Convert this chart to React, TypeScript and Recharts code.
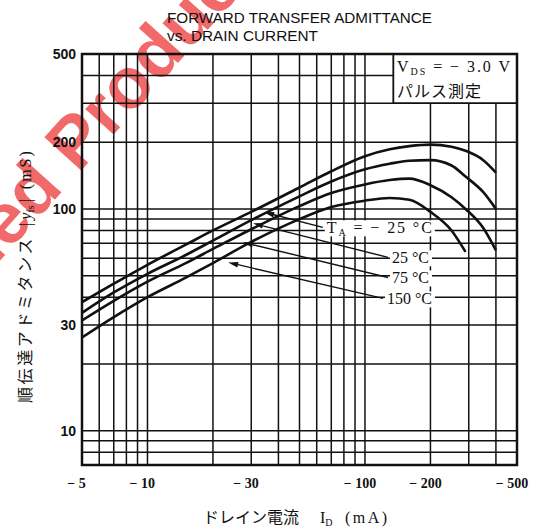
import React from 'react';
import { LineChart, Line, XAxis, YAxis, CartesianGrid, ReferenceArea, ReferenceLine } from 'recharts';

// drain current |I_D| in mA
const currentMA = [5, 7, 10, 15, 20, 30, 50, 70, 100, 130, 160, 200, 250, 290, 350, 400];

// |y_fs| in mS for each ambient temperature
const yfsM25 = [38, 46, 56, 69, 80, 97, 125, 148, 173, 186, 192, 195, 191, 183, 166, 146];
const yfs25 = [34, 42, 51, 62, 72, 89, 114, 133, 151, 160, 165, 166, 157, 140, 119, 100];
const yfs75 = [31.4, 38.5, 47, 57, 66, 81, 103, 118, 129, 135, 137, 128, 113, 100, 82, 65];
const yfs150 = [26.3, 32.5, 40, 49, 57, 71, 90, 102, 109, 112, 110, 97, 80, 64, null, null];

const xGrid = [5, 6, 7, 8, 9, 10, 20, 30, 40, 50, 60, 70, 80, 90, 100, 200, 300, 400, 500];
const xLabels = [5, 10, 30, 100, 200, 500];
const yGrid = [7, 8, 9, 10, 20, 30, 40, 50, 60, 70, 80, 90, 100, 200, 300, 400, 500];
const yLabels = [10, 30, 100, 200, 500];

// leader arrows for the temperature labels (tail at text, tip on curve)
const tempLabels = ['−25', '25', '75', '150'];
const labelWidth = [105, 37, 37, 45];
const arrowTail = [[64, 82.6], [127.6, 60.5], [127.6, 49.1], [121, 39.5]];
const arrowTip = [[34.4, 96.6], [30.6, 86.1], [27.5, 70.7], [23.5, 57.4]];

const rows = currentMA.map((i, k) => ({
  i,
  m25: yfsM25[k],
  p25: yfs25[k],
  p75: yfs75[k],
  p150: yfs150[k],
}));

const serif = '"Liberation Serif", "DejaVu Serif", serif';
const sans = '"Liberation Sans", Arial, sans-serif';
const cjk = '"Noto Sans CJK JP", sans-serif';

const XTick = (props: any) => {
  const { x, y, payload } = props;
  const v = payload.value;
  if (!xLabels.includes(v)) return null;
  const w = String(v).length * 7.5;
  return (
    <text x={x + w / 2} y={y + 21} textAnchor="end" fontFamily={serif} fontWeight="bold" fontSize={14} fill="#111">
      {'−  ' + v}
    </text>
  );
};

const arrowShape = (k: number) => (p: any) => {
  const { x1, y1, x2, y2 } = p;
  const ang = Math.atan2(y2 - y1, x2 - x1);
  const L = 10;
  const W = 2.8;
  const bx = x2 - L * Math.cos(ang);
  const by = y2 - L * Math.sin(ang);
  const nx = -Math.sin(ang) * W;
  const ny = Math.cos(ang) * W;
  const t = tempLabels[k];
  return (
    <g>
      <line x1={x1} y1={y1} x2={bx} y2={by} stroke="#111" strokeWidth={1.4} />
      <polygon points={`${x2},${y2} ${bx + nx},${by + ny} ${bx - nx},${by - ny}`} fill="#111" />
      <rect x={x1 + 2} y={y1 - 7} width={labelWidth[k] + 5} height={16} fill="#fff" />
      <text
        x={x1 + 4}
        y={y1 + 6}
        textLength={labelWidth[k]}
        lengthAdjust="spacing"
        fontFamily={serif}
        fontSize={16}
        fill="#111"
      >
        {k === 0 ? (
          <>
            <tspan>T</tspan>
            <tspan fontSize={10} dy={3}>A</tspan>
            <tspan dy={-3}>{' = − 25 °C'}</tspan>
          </>
        ) : (
          `${t} °C`
        )}
      </text>
    </g>
  );
};

export default function App() {
  return (
    <div style={{ position: 'absolute', left: 0, top: 0, width: 536, height: 529, background: '#fff' }}>
      <svg width={536} height={529} style={{ position: 'absolute', left: 0, top: 0 }}>
        <g transform="rotate(-48 78 174)" fontFamily={sans} fontWeight="bold" fontSize={72} fill="#ef5050" opacity={0.85}>
          <text x={78} y={174}>Product</text>
          <text x={58} y={174} textAnchor="end">Discontinued</text>
        </g>
      </svg>

      <div style={{ position: 'absolute', left: 0, top: 0 }}>
        <LineChart width={536} height={529} data={rows} margin={{ top: 54, right: 19, bottom: 34, left: 42 }}>
          <CartesianGrid stroke="#111" strokeWidth={1.5} strokeOpacity={1} />
          <XAxis
            dataKey="i"
            type="number"
            scale="log"
            domain={[5, 500]}
            ticks={xGrid}
            interval={0}
            allowDataOverflow
            axisLine={false}
            tickLine={false}
            tickSize={0}
            height={30}
            tick={<XTick />}
          />
          <YAxis
            type="number"
            scale="log"
            domain={[7, 500]}
            ticks={yGrid}
            interval={0}
            allowDataOverflow
            axisLine={false}
            tickLine={false}
            tickSize={0}
            tickMargin={6}
            width={40}
            tick={{ fill: '#111', fontSize: 14, fontFamily: sans, fontWeight: 'bold' }}
            tickFormatter={(v: number) => (yLabels.includes(v) ? String(v) : '')}
          />
          <ReferenceArea x1={135} x2={500} y1={300} y2={500} fill="#fff" fillOpacity={1} stroke="#111" strokeWidth={1.8} />
          <ReferenceArea x1={5} x2={500} y1={7} y2={500} fill="none" stroke="#111" strokeWidth={2.5} />
          <Line dataKey="m25" type="monotone" stroke="#111" strokeWidth={2.6} dot={false} isAnimationActive={false} />
          <Line dataKey="p25" type="monotone" stroke="#111" strokeWidth={2.6} dot={false} isAnimationActive={false} />
          <Line dataKey="p75" type="monotone" stroke="#111" strokeWidth={2.6} dot={false} isAnimationActive={false} />
          <Line dataKey="p150" type="monotone" stroke="#111" strokeWidth={2.6} dot={false} isAnimationActive={false} />
          {arrowTail.map((tail, k) => (
            <ReferenceLine
              key={k}
              segment={[
                { x: tail[0], y: tail[1] },
                { x: arrowTip[k][0], y: arrowTip[k][1] },
              ]}
              shape={arrowShape(k)}
            />
          ))}
        </LineChart>
      </div>

      <svg width={536} height={529} style={{ position: 'absolute', left: 0, top: 0, pointerEvents: 'none' }}>
        <text x={167} y={23} textLength={265} lengthAdjust="spacingAndGlyphs" fontFamily={sans} fontSize={15.5} fill="#111">
          FORWARD TRANSFER ADMITTANCE
        </text>
        <text x={167} y={41} textLength={151} lengthAdjust="spacingAndGlyphs" fontFamily={sans} fontSize={15.5} fill="#111">
          vs. DRAIN CURRENT
        </text>

        <text x={397} y={72} textLength={113} lengthAdjust="spacing" fontFamily={serif} fontSize={16} fill="#111">
          <tspan>V</tspan>
          <tspan fontSize={10} dy={3}>DS</tspan>
          <tspan dy={-3}>{' = − 3.0 V'}</tspan>
        </text>
        <text x={397} y={97} fontFamily={cjk} fontSize={16} letterSpacing={1} fill="#111">
          パルス測定
        </text>

        <text x={203} y={523} fontFamily={cjk} fontSize={16} fill="#111">
          <tspan>ドレイン電流</tspan>
          <tspan fontFamily={serif} x={320}>I</tspan>
          <tspan fontFamily={serif} fontSize={10} dy={3}>D</tspan>
          <tspan fontFamily={serif} dy={-3} x={345} letterSpacing={2.5}>(mA)</tspan>
        </text>

        <text x={31} y={403} transform="rotate(-90 31 403)" fontFamily={cjk} fontSize={16} fill="#111">
          <tspan letterSpacing={2.6}>順伝達アドミタンス</tspan>
          <tspan fontFamily={serif} dx={10}>|</tspan>
          <tspan fontFamily={serif} fontStyle="italic" dx={3}>y</tspan>
          <tspan fontFamily={serif} fontSize={10} dy={3}>fs</tspan>
          <tspan fontFamily={serif} dy={-3} dx={3}>|</tspan>
          <tspan fontFamily={serif} dx={10} letterSpacing={2}>(mS)</tspan>
        </text>
      </svg>
    </div>
  );
}
